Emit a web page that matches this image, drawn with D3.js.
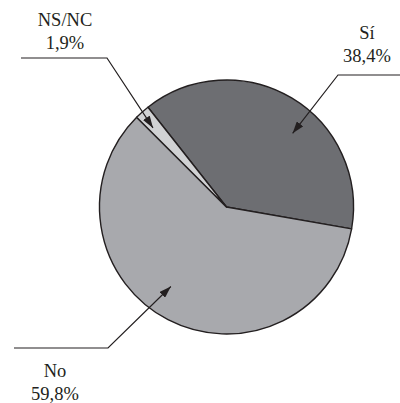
<!DOCTYPE html>
<html>
<head>
<meta charset="utf-8">
<script src="https://cdn.jsdelivr.net/npm/d3@7"></script>
<style>
  html, body { margin: 0; padding: 0; background: #fff; }
</style>
</head>
<body>
<svg id="chart" width="400" height="403"></svg>
<script>
// Data
const categories = ["Sí", "No", "NS/NC"];
const values = [38.4, 59.8, 1.9];
const valueLabels = ["38,4%", "59,8%", "1,9%"];
const colors = ["#6d6e72", "#a8a9ad", "#d1d2d4"];

// Layout (annotation geometry)
const cx = 226.5, cy = 207, radius = 127;
const startDeg = -38.2;
const leaders = [
  { tipDeg: 41.9, tipR: 99,  elbow: [338, 75],  end: [400, 75],  label: [367, 39] },
  { tipDeg: 215,  tipR: 97,  elbow: [108, 348], end: [14, 348],  label: [55, 377] },
  { tipDeg: -42.9, tipR: 108, elbow: [107, 58], end: [21, 58],  label: [65, 26] }
];
const fontStack = "'Liberation Serif', 'Times New Roman', Times, serif";

const svg = d3.select("#chart");
const defs = svg.append("defs");
defs.append("marker")
  .attr("id", "arrow")
  .attr("markerUnits", "userSpaceOnUse")
  .attr("viewBox", "0 0 12 8")
  .attr("refX", 12).attr("refY", 4)
  .attr("markerWidth", 12).attr("markerHeight", 8)
  .attr("orient", "auto")
  .append("path").attr("d", "M0,0 L12,4 L0,8 Z").attr("fill", "#231f20");

const pie = d3.pie().sort(null)
  .startAngle(startDeg * Math.PI / 180)
  .endAngle(startDeg * Math.PI / 180 + 2 * Math.PI);
const arcs = pie(values);
const arc = d3.arc().innerRadius(0).outerRadius(radius);

const g = svg.append("g").attr("transform", `translate(${cx},${cy})`);
g.selectAll("path.slice")
  .data(arcs)
  .join("path")
  .attr("class", "slice")
  .attr("d", arc)
  .attr("fill", (d, i) => colors[i])
  .attr("stroke", "#231f20")
  .attr("stroke-width", 1.4)
  .attr("stroke-linejoin", "round");

// Leaders and labels
const polar = (deg, r) => {
  const a = deg * Math.PI / 180;
  return [cx + r * Math.sin(a), cy - r * Math.cos(a)];
};
const line = d3.line();
categories.forEach((cat, i) => {
  const L = leaders[i];
  const tip = polar(L.tipDeg, L.tipR);
  svg.append("path")
    .attr("d", line([L.end, L.elbow, tip]))
    .attr("fill", "none")
    .attr("stroke", "#231f20")
    .attr("stroke-width", 1.2)
    .attr("marker-end", "url(#arrow)");
  const t = svg.append("text")
    .attr("text-anchor", "middle")
    .attr("font-family", fontStack)
    .attr("font-size", 18.5)
    .attr("fill", "#231f20")
    .attr("x", L.label[0]).attr("y", L.label[1]);
  t.append("tspan").attr("x", L.label[0]).text(cat);
  t.append("tspan").attr("x", L.label[0]).attr("dy", 23).text(valueLabels[i]);
});
</script>
</body>
</html>
